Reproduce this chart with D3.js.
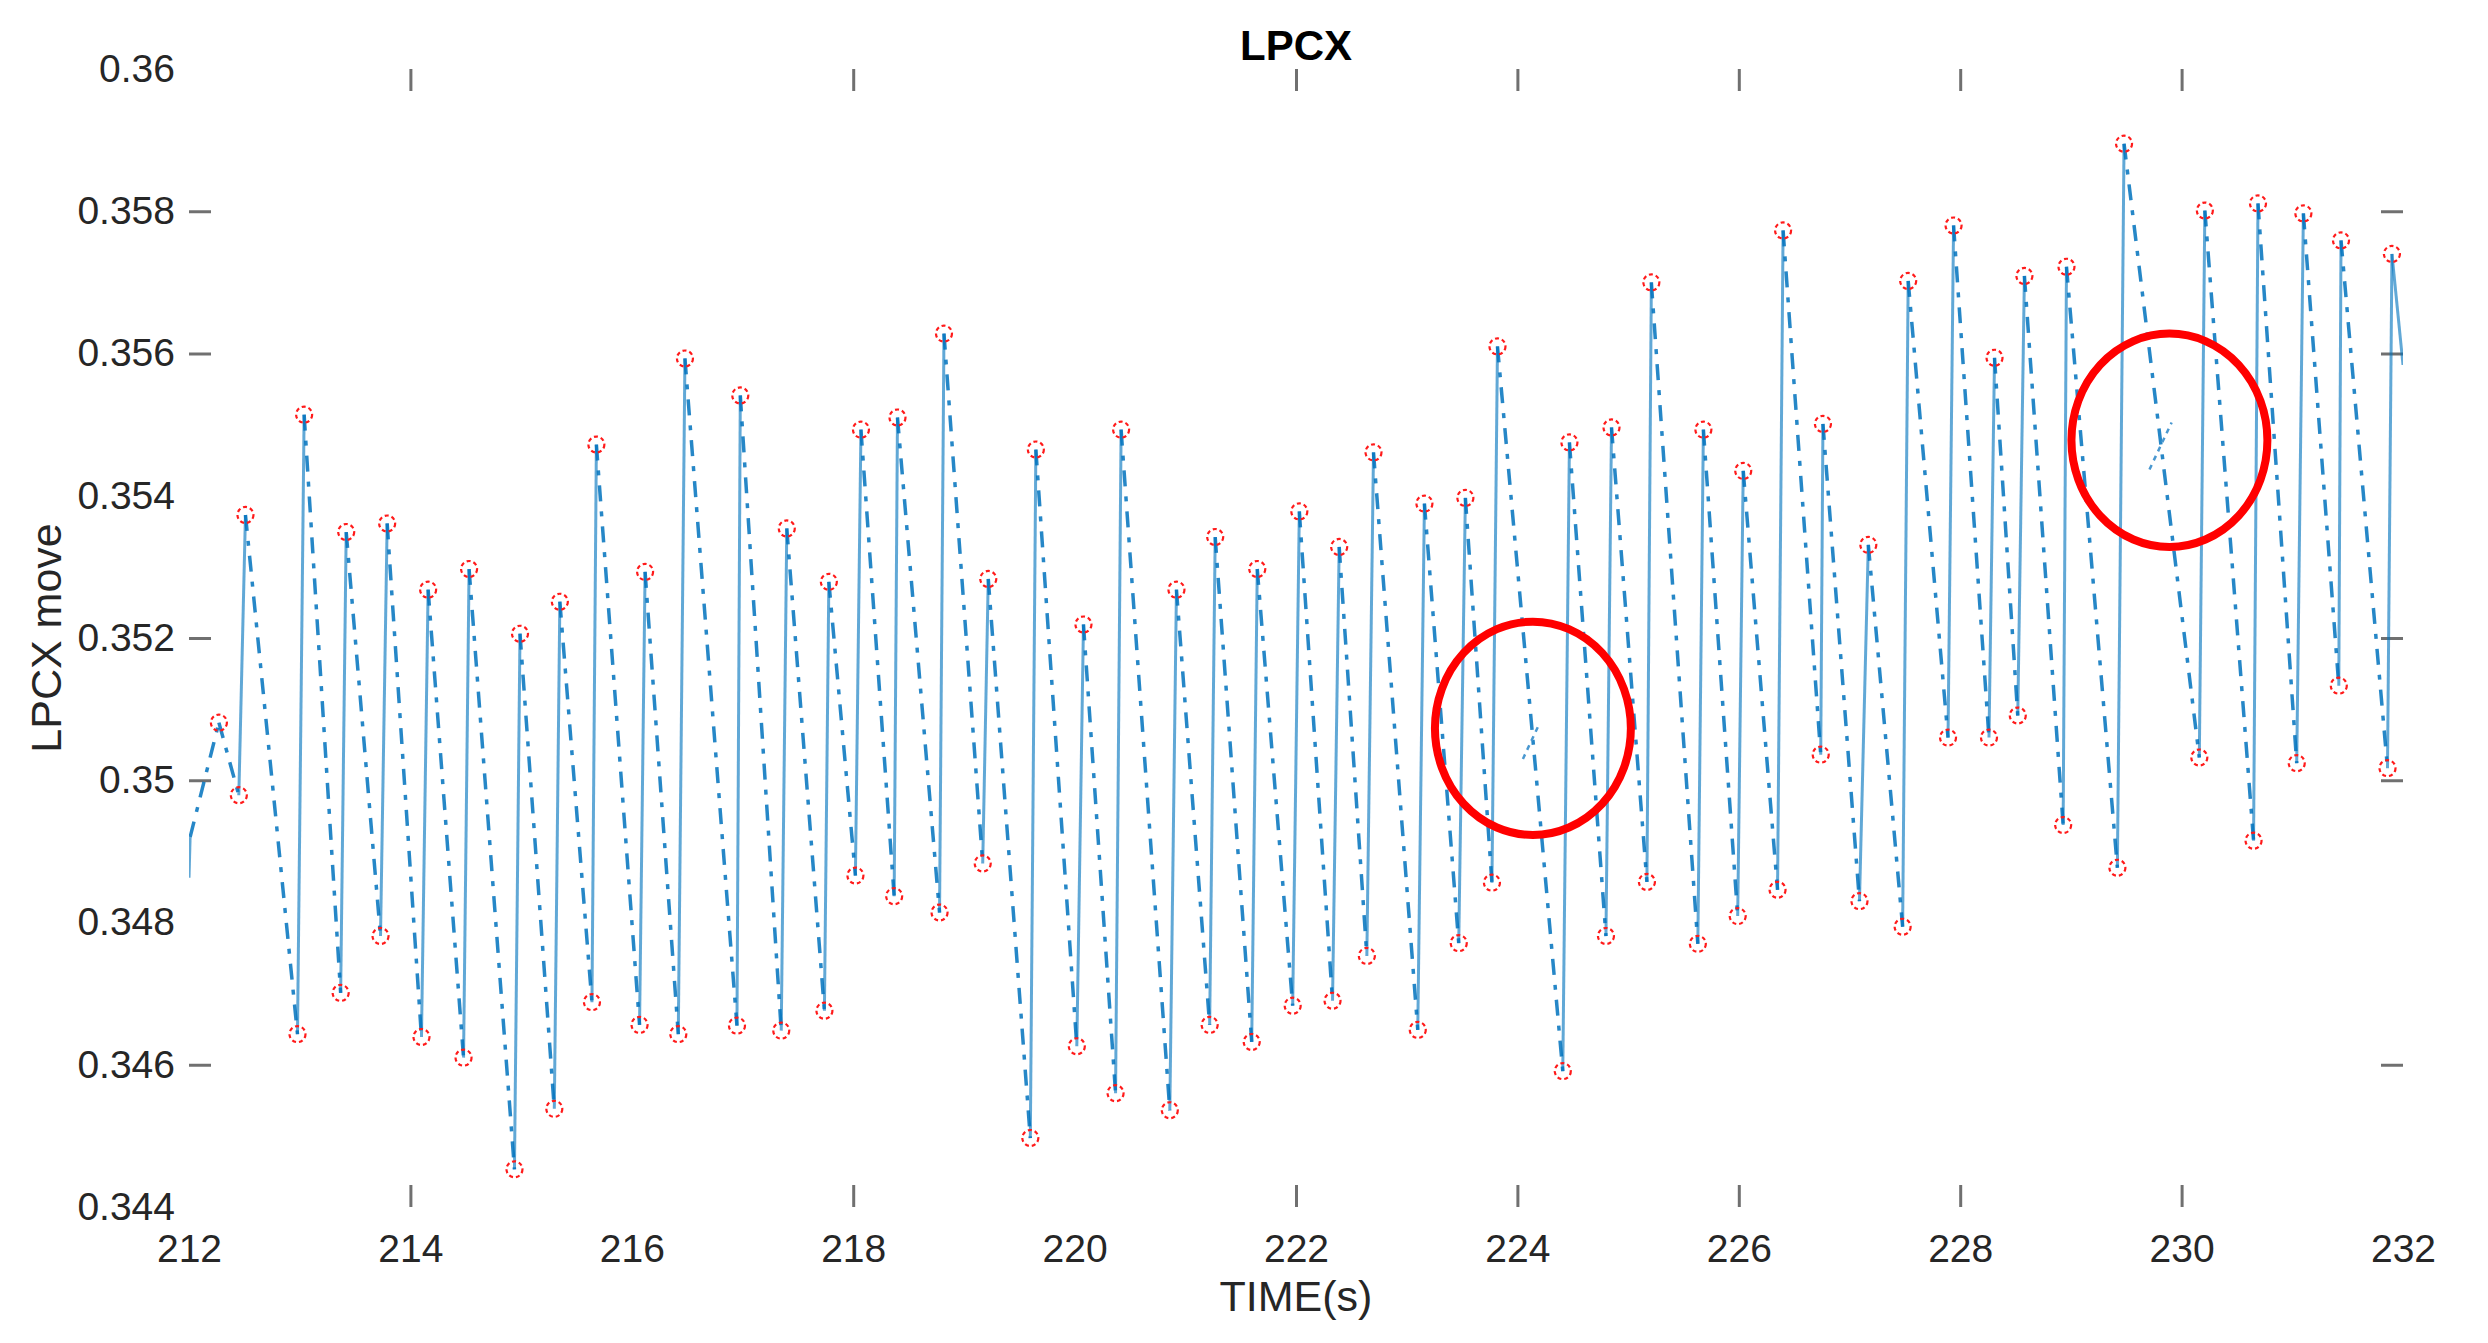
<!DOCTYPE html>
<html>
<head>
<meta charset="utf-8">
<script src="https://cdn.jsdelivr.net/npm/d3@7"></script>
<style>
  html, body { margin: 0; padding: 0; background: #fff; }
  svg { display: block; }
  .tick text { font-family: "Liberation Sans", Arial, sans-serif; fill: #262626; }
</style>
</head>
<body>
<div id="chart"></div>
<script>
// lead-in before the first marked extremum
var leadTime = [212.0, 212.01];
var leadValue = [0.34863, 0.3492];

// marked peaks / troughs (red circles), alternating
var extremaTime = [
    212.27, 212.45, 212.51, 212.98, 213.04, 213.37, 213.42, 213.73, 213.79, 214.10,
    214.16, 214.48, 214.53, 214.94, 214.99, 215.30, 215.35, 215.64, 215.68, 216.07,
    216.12, 216.42, 216.48, 216.95, 216.98, 217.35, 217.40, 217.74, 217.78, 218.02,
    218.07, 218.37, 218.40, 218.78, 218.82, 219.17, 219.22, 219.60, 219.65, 220.02,
    220.08, 220.37, 220.42, 220.86, 220.92, 221.22, 221.27, 221.60, 221.65, 221.97,
    222.03, 222.33, 222.39, 222.64, 222.70, 223.10, 223.16, 223.47, 223.53, 223.77,
    223.82, 224.41, 224.47, 224.80, 224.85, 225.17, 225.21, 225.63, 225.68, 225.99,
    226.04, 226.35, 226.40, 226.74, 226.76, 227.09, 227.17, 227.48, 227.53, 227.89,
    227.94, 228.26, 228.31, 228.52, 228.58, 228.93, 228.96, 229.42, 229.48, 230.16,
    230.21, 230.65, 230.69, 231.04, 231.10, 231.42, 231.44, 231.86, 231.90
];
var extremaValue = [
    0.35081, 0.34979, 0.35373, 0.34643, 0.35514, 0.34701, 0.35349, 0.34781, 0.35361, 0.34639,
    0.35268, 0.34610, 0.35297, 0.34453, 0.35206, 0.34538, 0.35251, 0.34688, 0.35472, 0.34656,
    0.35293, 0.34643, 0.35593, 0.34655, 0.35541, 0.34648, 0.35354, 0.34676, 0.35279, 0.34866,
    0.35493, 0.34837, 0.35510, 0.34814, 0.35628, 0.34883, 0.35283, 0.34497, 0.35465, 0.34626,
    0.35219, 0.34560, 0.35493, 0.34536, 0.35268, 0.34656, 0.35342, 0.34632, 0.35297, 0.34683,
    0.35378, 0.34690, 0.35328, 0.34753, 0.35461, 0.34649, 0.35389, 0.34771, 0.35397, 0.34856,
    0.35610, 0.34591, 0.35475, 0.34781, 0.35496, 0.34857, 0.35700, 0.34770, 0.35493, 0.34809,
    0.35435, 0.34846, 0.35773, 0.35036, 0.35501, 0.34830, 0.35331, 0.34794, 0.35702, 0.35060,
    0.35780, 0.35060, 0.35594, 0.35091, 0.35709, 0.34937, 0.35722, 0.34877, 0.35895, 0.35032,
    0.35801, 0.34915, 0.35811, 0.35024, 0.35797, 0.35133, 0.35759, 0.35017, 0.35740
];

// where the line leaves the right edge
var tailTime = [232.0];
var tailValue = [0.35584];

// small glitches inside the highlighted regions
var glitchTime = [[224.05, 224.20], [229.71, 229.91]];
var glitchValue = [[0.35030, 0.35080], [0.35437, 0.35503]];

// red highlight ellipses
var noteTime = [224.14, 229.89];
var noteValue = [0.35073, 0.35478];
var noteHalfWidth = [0.885, 0.885];     // seconds
var noteHalfHeight = [0.00150, 0.00150]; // LPCX units

var xTicks = [212, 214, 216, 218, 220, 222, 224, 226, 228, 230, 232];
var yTicks = [0.344, 0.346, 0.348, 0.35, 0.352, 0.354, 0.356, 0.358, 0.36];
var xTickMarks = [214, 218, 222, 224, 226, 228, 230];
var yTickMarks = [0.346, 0.35, 0.352, 0.356, 0.358];

var width = 2488, height = 1343;
var margin = {top: 69, right: 85, bottom: 136, left: 189};
var innerW = width - margin.left - margin.right,
    innerH = height - margin.top - margin.bottom;

var x = d3.scaleLinear().domain([212, 232]).range([0, innerW]);
var y = d3.scaleLinear().domain([0.344, 0.36]).range([innerH, 0]);

var svg = d3.select('#chart')
    .append('svg')
    .attr('width', width)
    .attr('height', height)
    .style('background', '#fff');

var g = svg.append('g')
    .attr('transform', 'translate(' + margin.left + ',' + margin.top + ')');

g.append('clipPath').attr('id', 'plot-clip')
    .append('rect').attr('width', innerW).attr('height', innerH);

// tick labels (no axis lines, as in the picture)
var fmt = d3.format('.3~f');

g.append('g')
    .attr('transform', 'translate(0,' + innerH + ')')
    .call(d3.axisBottom(x).tickValues(xTicks).tickSize(0).tickPadding(27).tickFormat(d3.format('d')))
    .call(function(a) { a.select('.domain').remove(); })
    .selectAll('text').style('font-size', '39px');

g.append('g')
    .call(d3.axisLeft(y).tickValues(yTicks).tickSize(0).tickPadding(14).tickFormat(fmt))
    .call(function(a) { a.select('.domain').remove(); })
    .selectAll('text').style('font-size', '39px');

// inward tick marks on all four sides
function marks(axis, tx, ty) {
    g.append('g')
        .attr('transform', 'translate(' + tx + ',' + ty + ')')
        .call(axis.tickSize(-22).tickFormat(''))
        .call(function(a) {
            a.select('.domain').remove();
            a.selectAll('line').attr('stroke', '#707070').attr('stroke-width', 3);
        });
}
marks(d3.axisBottom(x).tickValues(xTickMarks), 0, innerH);
marks(d3.axisTop(x).tickValues(xTickMarks), 0, 0);
marks(d3.axisLeft(y).tickValues(yTickMarks), 0, 0);
marks(d3.axisRight(y).tickValues(yTickMarks), innerW, 0);

// build the full trace
var trace = [];
leadTime.forEach(function(t, i) { trace.push([t, leadValue[i]]); });
extremaTime.forEach(function(t, i) { trace.push([t, extremaValue[i]]); });
tailTime.forEach(function(t, i) { trace.push([t, tailValue[i]]); });

var segments = d3.pairs(trace);
var plot = g.append('g').attr('clip-path', 'url(#plot-clip)');

// quick rises drawn solid but pale, slow falls dash-dotted
plot.selectAll('line.seg')
    .data(segments)
    .enter().append('line')
    .attr('class', 'seg')
    .attr('x1', function(d) { return x(d[0][0]); })
    .attr('y1', function(d) { return y(d[0][1]); })
    .attr('x2', function(d) { return x(d[1][0]); })
    .attr('y2', function(d) { return y(d[1][1]); })
    .attr('stroke', '#0072BD')
    .attr('stroke-width', function(d) { return (d[1][0] - d[0][0]) < 0.1 ? 3 : 3.5; })
    .attr('stroke-opacity', function(d) { return (d[1][0] - d[0][0]) < 0.1 ? 0.62 : 0.85; })
    .attr('stroke-dasharray', function(d) { return (d[1][0] - d[0][0]) < 0.1 ? null : '16,10,5,10'; });

plot.selectAll('line.glitch')
    .data(glitchTime)
    .enter().append('line')
    .attr('class', 'glitch')
    .attr('x1', function(d) { return x(d[0]); })
    .attr('y1', function(d, i) { return y(glitchValue[i][0]); })
    .attr('x2', function(d) { return x(d[1]); })
    .attr('y2', function(d, i) { return y(glitchValue[i][1]); })
    .attr('stroke', '#4a98d0')
    .attr('stroke-width', 2.5)
    .attr('stroke-dasharray', '5,5');

plot.selectAll('circle.ext')
    .data(extremaTime)
    .enter().append('circle')
    .attr('class', 'ext')
    .attr('cx', function(d) { return x(d); })
    .attr('cy', function(d, i) { return y(extremaValue[i]); })
    .attr('r', 8)
    .attr('fill', 'none')
    .attr('stroke', '#ff1a1a')
    .attr('stroke-width', 2.2)
    .attr('stroke-dasharray', '4,3');

// highlight ellipses
g.selectAll('ellipse.note')
    .data(noteTime)
    .enter().append('ellipse')
    .attr('class', 'note')
    .attr('cx', function(d) { return x(d); })
    .attr('cy', function(d, i) { return y(noteValue[i]); })
    .attr('rx', function(d, i) { return x(d + noteHalfWidth[i]) - x(d); })
    .attr('ry', function(d, i) { return y(noteValue[i] - noteHalfHeight[i]) - y(noteValue[i]); })
    .attr('fill', 'none')
    .attr('stroke', '#ff0000')
    .attr('stroke-width', 8);

// title and axis labels
svg.append('text')
    .attr('x', margin.left + innerW / 2)
    .attr('y', 60)
    .attr('text-anchor', 'middle')
    .style('font-family', '"Liberation Sans", Arial, sans-serif')
    .style('font-weight', 'bold')
    .style('font-size', '42px')
    .attr('fill', '#000')
    .text('LPCX');

svg.append('text')
    .attr('x', margin.left + innerW / 2)
    .attr('y', 1311)
    .attr('text-anchor', 'middle')
    .style('font-family', '"Liberation Sans", Arial, sans-serif')
    .style('font-size', '43px')
    .attr('fill', '#262626')
    .text('TIME(s)');

svg.append('text')
    .attr('transform', 'translate(61,' + (margin.top + innerH / 2) + ') rotate(-90)')
    .attr('text-anchor', 'middle')
    .style('font-family', '"Liberation Sans", Arial, sans-serif')
    .style('font-size', '43px')
    .attr('fill', '#262626')
    .text('LPCX move');
</script>
</body>
</html>
